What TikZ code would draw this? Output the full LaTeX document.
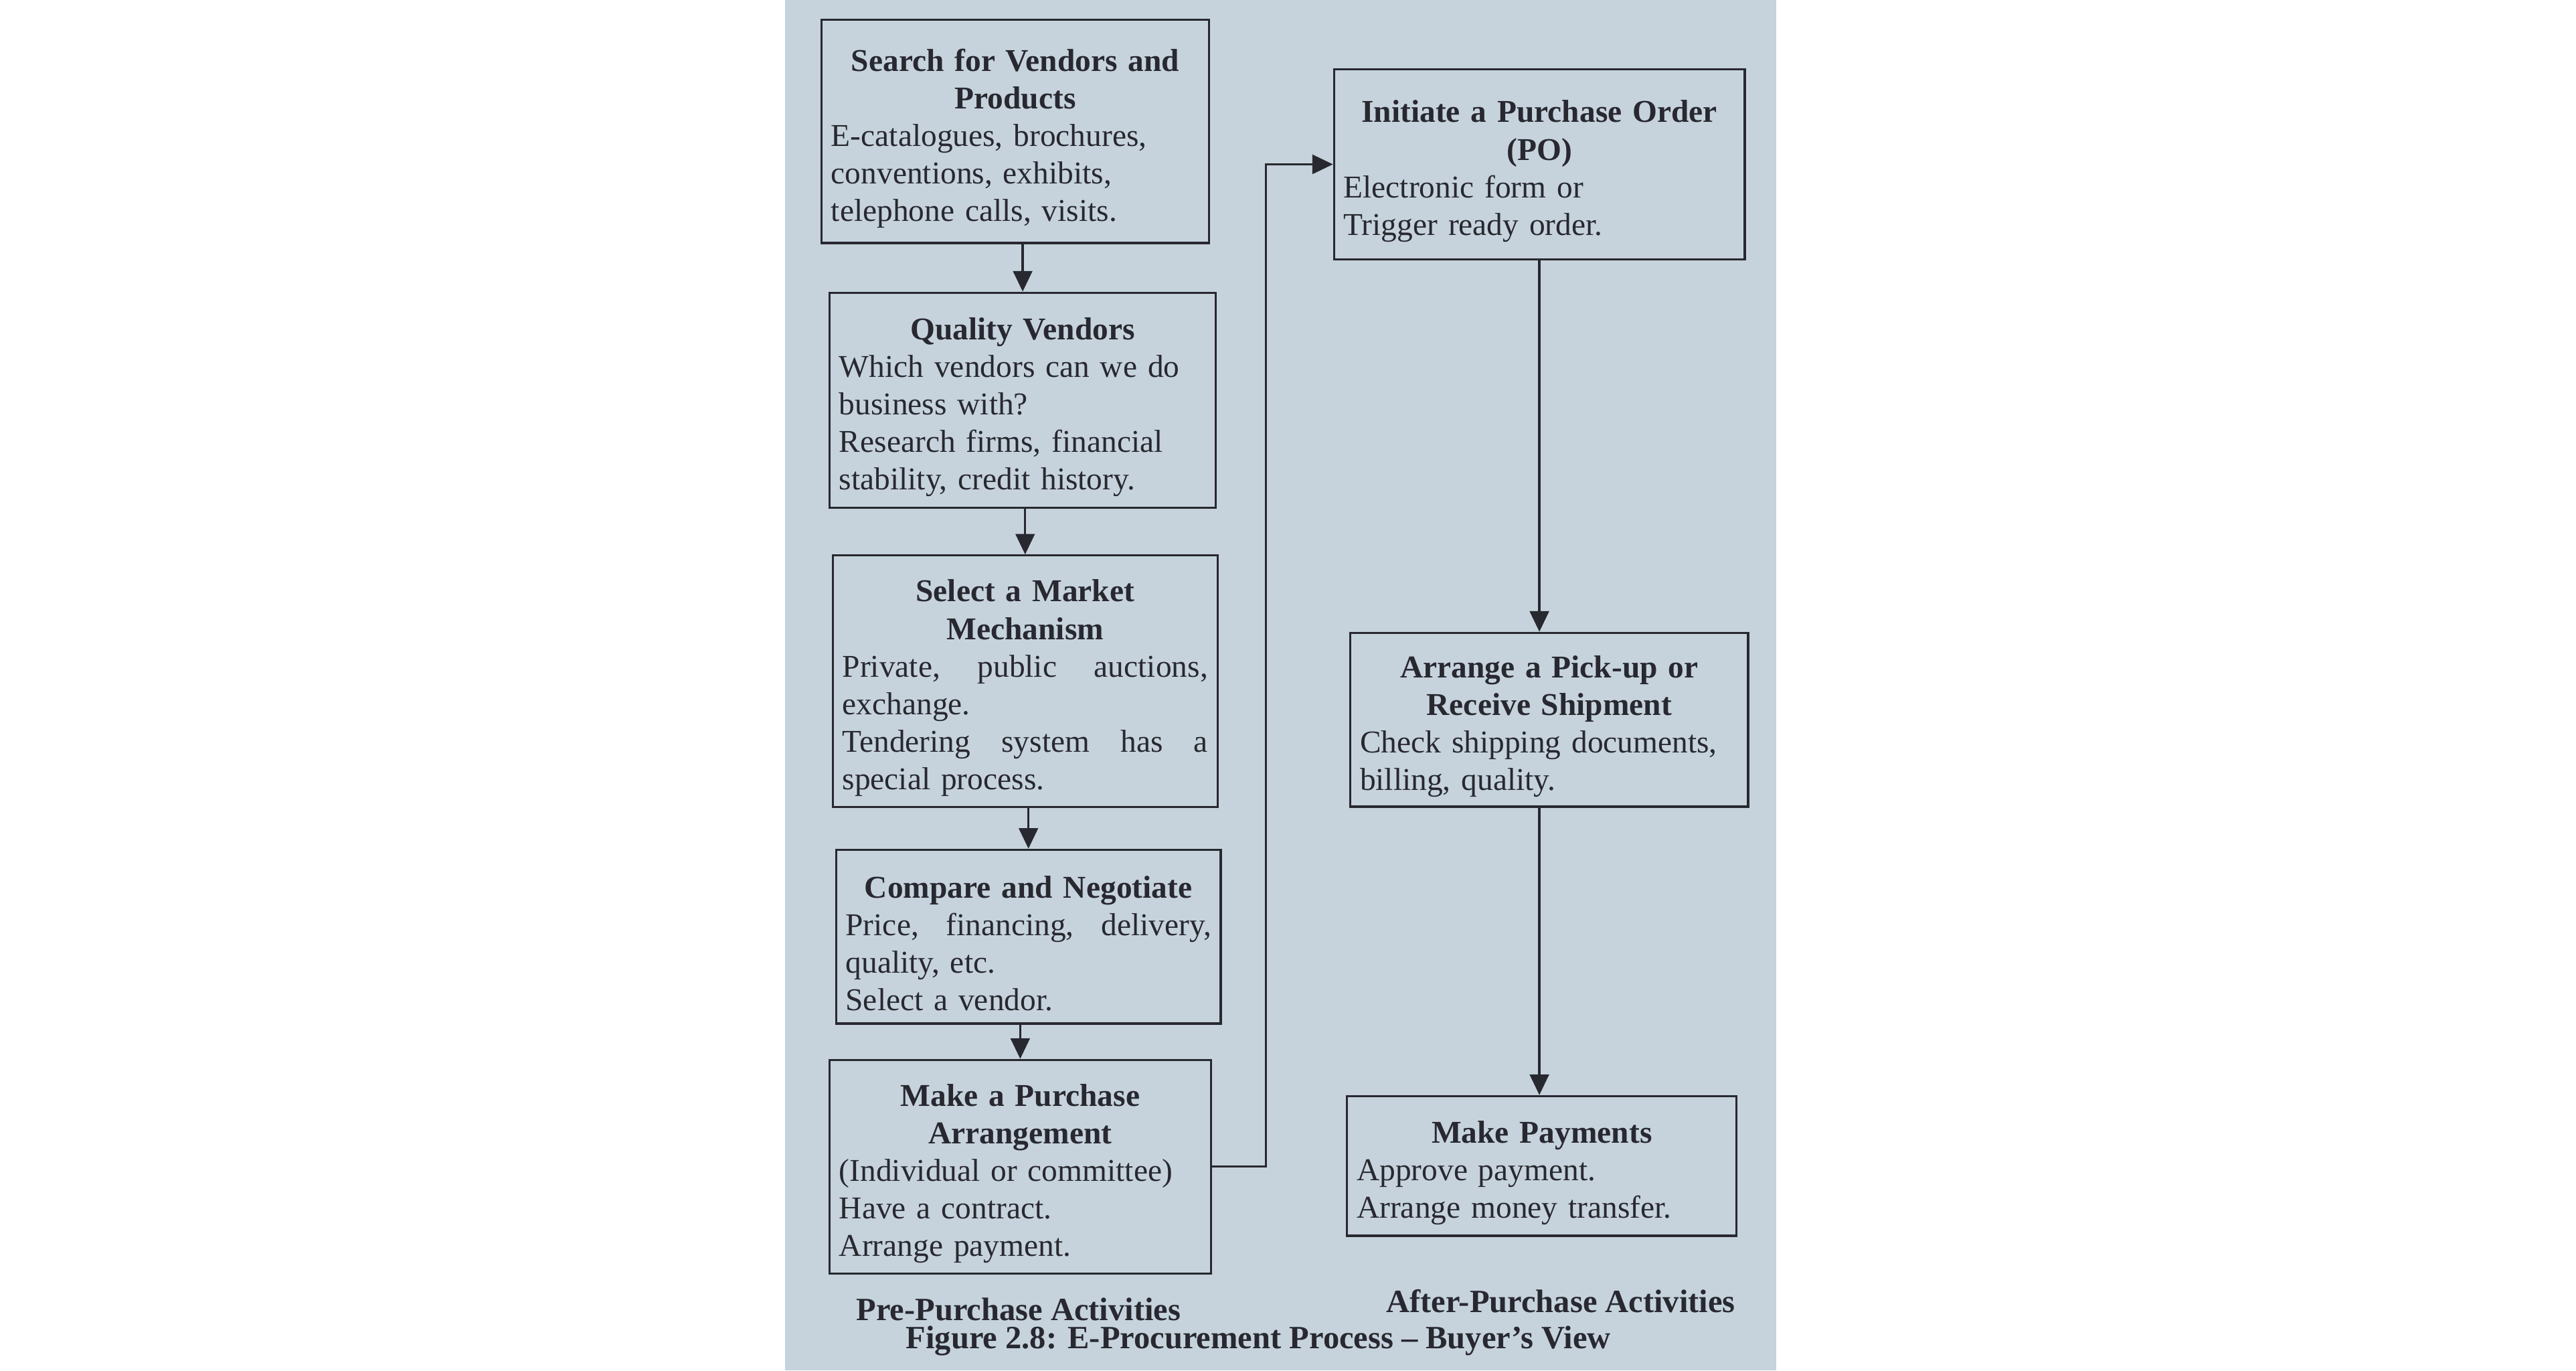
\documentclass[tikz,border=0pt]{standalone}
\usepackage{fontspec}
\setmainfont{Liberation Serif}
\usepackage{tikz}
\usetikzlibrary{arrows.meta}
\definecolor{pagebg}{RGB}{198,211,221}
\definecolor{ink}{RGB}{40,40,48}
\tikzset{stepbox/.style={draw=ink, line width=0.9pt, text=ink, align=left, inner xsep=1.4mm, inner ysep=0pt, font=\fontsize{13.2}{15.6}\selectfont, execute at end node={\par\vspace*{-2mm}}}}
\tikzset{arrow/.style={->, >={Triangle[length=3mm, width=2.8mm]}, draw=ink, line width=0.9pt}}
\tikzset{caption/.style={text=ink, font=\bfseries\fontsize{13.5}{15.5}\selectfont}}
\newcommand{\boxhead}[1]{{\centering\bfseries #1\par}}
\newcommand{\jfill}{\hspace{0pt plus 1filll}}

\begin{document}
\begin{tikzpicture}[x=0.24mm, y=-0.24mm]
  \useasboundingbox (0,0) rectangle (1568,834);
  \fill[pagebg] (478,0) rectangle (1081,834);

  % pre-purchase column
  \node[stepbox, minimum width=56.6mm, minimum height=32.6mm, text width=53.8mm] (search) at (618,80)
    {\boxhead{Search for Vendors and\\Products}E-catalogues, brochures,\\conventions, exhibits,\\telephone calls, visits.};
  \node[stepbox, minimum width=56.4mm, minimum height=31.4mm, text width=53.6mm] (qualify) at (622.5,243.5)
    {\boxhead{Quality Vendors}Which vendors can we do\\business with?\\Research firms, financial\\stability, credit history.};
  \node[stepbox, minimum width=56.2mm, minimum height=36.7mm, text width=53.4mm] (market) at (624,414.5)
    {\boxhead{Select a Market\\Mechanism}Private,\jfill public\jfill auctions,\\exchange.\\Tendering\jfill system\jfill has\jfill a\\special process.};
  \node[stepbox, minimum width=56.2mm, minimum height=25.4mm, text width=53.4mm] (compare) at (626,570)
    {\boxhead{Compare and Negotiate}Price,\jfill financing,\jfill delivery,\\quality, etc.\\Select a vendor.};
  \node[stepbox, minimum width=55.7mm, minimum height=31.2mm, text width=52.9mm] (purchase) at (621,710)
    {\boxhead{Make a Purchase\\Arrangement}(Individual or committee)\\Have a contract.\\Arrange payment.};

  % after-purchase column
  \node[stepbox, minimum width=60.0mm, minimum height=27.8mm, text width=57.2mm] (order) at (937,100)
    {\boxhead{Initiate a Purchase Order\\(PO)}Electronic form or\\Trigger ready order.};
  \node[stepbox, minimum width=58.1mm, minimum height=25.4mm, text width=55.3mm] (pickup) at (943,438)
    {\boxhead{Arrange a Pick-up or\\Receive Shipment}Check shipping documents,\\billing, quality.};
  \node[stepbox, minimum width=56.9mm, minimum height=20.4mm, text width=54.1mm] (payment) at (938.5,709.5)
    {\boxhead{Make Payments}Approve payment.\\Arrange money transfer.};

  \draw[arrow] (search.south -| qualify.north) -- (qualify.north);
  \draw[arrow] (qualify.south -| market.north) -- (market.north);
  \draw[arrow] (market.south -| compare.north) -- (compare.north);
  \draw[arrow] (compare.south -| purchase.north) -- (purchase.north);
  \draw[arrow] (purchase.east) -- ++(33,0) |- (order.west);
  \draw[arrow] (order.south) -- (order.south |- pickup.north);
  \draw[arrow] (pickup.south -| order.south) -- (payment.north -| order.south);

  \node[caption] (pre) at (620,797) {Pre-Purchase Activities};
  \node[caption] (after) at (950,792) {After-Purchase Activities};
  \node[caption] (fig) at (766,816) {Figure 2.8: E-Procurement Process – Buyer’s View};
\end{tikzpicture}
\end{document}
